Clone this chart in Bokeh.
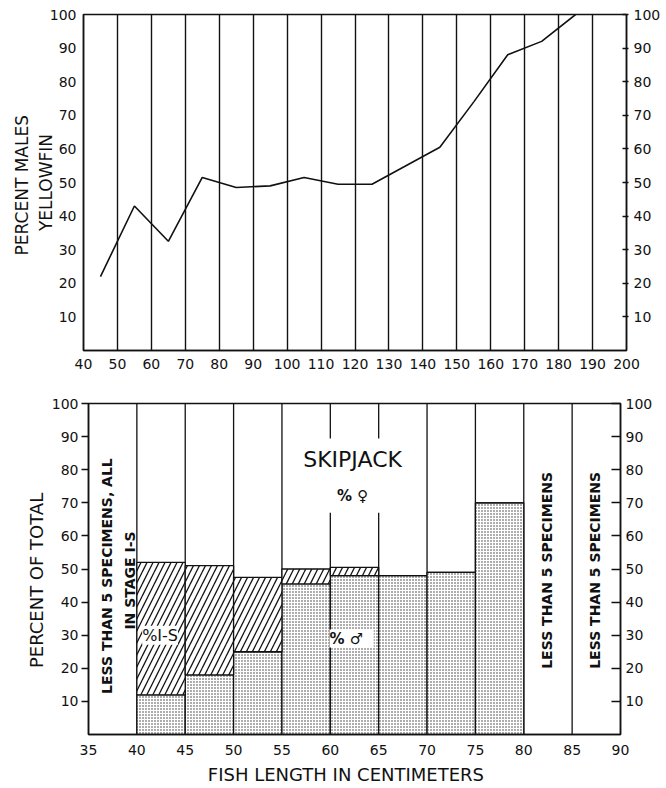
from bokeh.plotting import figure
from bokeh.models import LinearAxis, Range1d, FixedTicker, Label, BoxAnnotation
from bokeh.embed import file_html
from bokeh.resources import INLINE

# ---- Yellowfin: percent males by fish length (cm) ----
yf_length = [45, 55, 65, 75, 85, 95, 105, 115, 125, 135, 145, 155, 165, 175, 185]
yf_pct_males = [22, 43, 32.5, 51.5, 48.5, 49, 51.5, 49.5, 49.5, 55, 60.5, 74, 88, 92, 100]
yf_x_ticks = [40, 50, 60, 70, 80, 90, 100, 110, 120, 130, 140, 150, 160, 170, 180, 190, 200]
yf_grid = [50, 60, 70, 80, 90, 100, 110, 120, 130, 140, 150, 160, 170, 180, 190]
y_ticks = [10, 20, 30, 40, 50, 60, 70, 80, 90, 100]

# ---- Skipjack: percent of total by 5-cm length class ----
sj_left = [40, 45, 50, 55, 60, 65, 70, 75]
sj_right = [45, 50, 55, 60, 65, 70, 75, 80]
sj_males = [12, 18, 25, 45.5, 48, 48, 49, 70]
sj_stage_is = [40, 33, 22.5, 4.5, 2.5, 0, 0, 0]
sj_edges = [40, 45, 50, 55, 60, 65, 70, 75, 80, 85]
sj_x_ticks = [35, 40, 45, 50, 55, 60, 65, 70, 75, 80, 85, 90]

FONT = "DejaVu Sans"
INK = "#111111"


def style_axis(ax, size="14px"):
    ax.major_label_text_font = FONT
    ax.major_label_text_font_size = size
    ax.major_label_text_color = INK
    ax.axis_label_text_font = FONT
    ax.axis_label_text_font_style = "normal"
    ax.axis_label_text_font_size = "18px"
    ax.axis_label_text_color = INK
    ax.axis_line_color = INK
    ax.axis_line_width = 1.5
    ax.major_tick_line_color = INK
    ax.major_tick_line_width = 1.5
    ax.minor_tick_line_color = None


def add_label(p, x, y, text, size, bold=False, angle=0, bg=None):
    lab = Label(x=x, y=y, text=text, text_font=FONT, text_font_size=size,
                text_font_style="bold" if bold else "normal", text_color=INK,
                text_align="center", text_baseline="middle",
                angle=angle, angle_units="deg")
    if bg:
        lab.background_fill_color = bg
        lab.background_fill_alpha = 1.0
    p.add_layout(lab)


# ================= TOP CHART =================
p1 = figure(width=666, height=380, x_range=Range1d(40, 200), y_range=Range1d(0, 100),
            output_backend="svg", toolbar_location=None,
            min_border_left=83, min_border_right=40, min_border_top=14, min_border_bottom=30)
p1.outline_line_color = INK
p1.outline_line_width = 1.5
p1.background_fill_color = "white"
p1.border_fill_color = "white"

p1.xaxis.ticker = FixedTicker(ticks=yf_x_ticks)
style_axis(p1.xaxis[0])
p1.xaxis.major_tick_line_color = None
p1.xaxis.major_tick_in = 0
p1.xaxis.major_tick_out = 0
p1.xaxis.major_label_standoff = 8

p1.yaxis.ticker = FixedTicker(ticks=y_ticks)
style_axis(p1.yaxis[0])
p1.yaxis.major_tick_line_color = None
p1.yaxis.major_tick_in = 0
p1.yaxis.major_tick_out = 0
p1.yaxis.major_label_standoff = 7
p1.yaxis.axis_label = "PERCENT  MALES\nYELLOWFIN"
p1.yaxis.axis_label_text_font_size = "17px"
p1.yaxis.axis_label_standoff = -9

r1 = LinearAxis(ticker=FixedTicker(ticks=y_ticks), major_tick_in=4, major_tick_out=2,
                major_label_standoff=5)
style_axis(r1)
p1.add_layout(r1, "right")

p1.xgrid.ticker = FixedTicker(ticks=yf_grid)
p1.xgrid.grid_line_color = INK
p1.xgrid.grid_line_width = 1.4
p1.ygrid.grid_line_color = None

p1.line(yf_length, yf_pct_males, line_color=INK, line_width=1.6)

# ================= BOTTOM CHART =================
p2 = figure(width=666, height=408, x_range=Range1d(35, 90), y_range=Range1d(0, 100),
            output_backend="svg", toolbar_location=None,
            min_border_left=88, min_border_right=46, min_border_top=23, min_border_bottom=54)
p2.outline_line_color = INK
p2.outline_line_width = 1.5
p2.background_fill_color = "white"
p2.border_fill_color = "white"
p2.grid.grid_line_color = None

p2.xaxis.ticker = FixedTicker(ticks=sj_x_ticks)
style_axis(p2.xaxis[0])
p2.xaxis.major_tick_line_color = None
p2.xaxis.major_label_standoff = 4
p2.xaxis.axis_label = "FISH  LENGTH  IN  CENTIMETERS"
p2.xaxis.axis_label_standoff = 6

p2.yaxis.ticker = FixedTicker(ticks=y_ticks)
style_axis(p2.yaxis[0])
p2.yaxis.major_tick_in = 0
p2.yaxis.major_tick_out = 7
p2.yaxis.major_label_standoff = 3
p2.yaxis.axis_label = "PERCENT   OF   TOTAL"
p2.yaxis.axis_label_standoff = 2

r2 = LinearAxis(ticker=FixedTicker(ticks=y_ticks), major_tick_in=9, major_tick_out=0,
                major_label_standoff=5)
style_axis(r2)
p2.add_layout(r2, "right")

# vertical class boundaries
p2.segment(x0=sj_edges, y0=[0] * len(sj_edges), x1=sj_edges, y1=[100] * len(sj_edges),
           line_color=INK, line_width=1.3)

# males (stippled)
p2.quad(left=sj_left, right=sj_right, bottom=[0] * len(sj_left), top=sj_males,
        fill_color="white", line_color=INK, line_width=1.3,
        hatch_pattern="dot", hatch_color="black", hatch_scale=3, hatch_weight=1.0, hatch_alpha=0.8)

# stage I-S (diagonal hatch) stacked on males
sj_top = [m + s for m, s in zip(sj_males, sj_stage_is)]
p2.quad(left=sj_left, right=sj_right, bottom=sj_males, top=sj_top,
        fill_color="white", line_color=INK, line_width=1.3,
        hatch_pattern="/", hatch_color=INK, hatch_scale=12, hatch_weight=1.3)

# gap in boundaries around the title
p2.add_layout(BoxAnnotation(left=57.5, right=67.5, bottom=67, top=89.4,
                            fill_color="white", fill_alpha=1.0, line_color=None))

add_label(p2, 62.3, 83, "SKIPJACK", "22px")
add_label(p2, 62.3, 72.2, "% ♀", "15px", bold=True)
add_label(p2, 62.2, 29, " % ♂ ", "15px", bold=True, bg="white")
add_label(p2, 42.4, 30, "%I-S", "16px", bold=False, bg="white")
add_label(p2, 36.96, 50.8, "LESS  THAN  5  SPECIMENS,  ALL", "14px", bold=True, angle=90)
add_label(p2, 39.3, 48, "IN  STAGE  I-S", "14px", bold=True, angle=90)
add_label(p2, 82.4, 51.8, "LESS  THAN  5  SPECIMENS", "14px", bold=True, angle=90)
add_label(p2, 87.4, 51.8, "LESS  THAN  5  SPECIMENS", "14px", bold=True, angle=90)

open("out.html", "w").write(file_html([p1, p2], INLINE))
